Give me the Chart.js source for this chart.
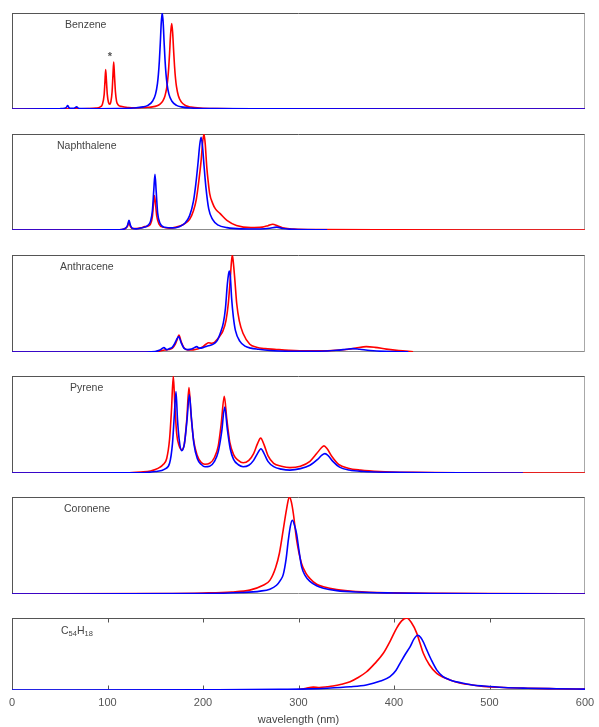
<!DOCTYPE html>
<html><head><meta charset="utf-8">
<script src="https://cdn.jsdelivr.net/npm/chart.js@4"></script>
<style>
html,body{margin:0;padding:0;background:#fff;overflow:hidden;width:599px;height:727px;}
</style></head><body>
<script>
// ---------------- DATA (wavelength nm, normalised intensity) ----------------
const wavelengthTicks = [0, 100, 200, 300, 400, 500, 600];
const moleculeNames = ['Benzene', 'Naphthalene', 'Anthracene', 'Pyrene', 'Coronene', 'C54H18'];

const benzeneBlue = [[0,0],[40,0.001],[50,0.003],[55,0.008],[57,0.018],[58.3,0.035],[59.6,0.015],[62,0.006],[65,0.008],[67.7,0.022],[69.5,0.008],[73,0.004],[90,0.003],[110,0.004],[127,0.01],[137.3,0.022],[142.3,0.038],[147.3,0.083],[150.3,0.155],[152.3,0.265],[153.3,0.36],[154.3,0.5],[155.3,0.69],[156.3,0.9],[157.3,1.0],[158.3,0.9],[159.3,0.69],[160.3,0.5],[161.3,0.36],[162.3,0.265],[164.3,0.155],[167.3,0.083],[172.3,0.038],[177.3,0.022],[187.3,0.01],[210,0.004],[260,0.002],[600,0]];
const benzeneRed = [[0,0],[60,0.001],[80,0.004],[88,0.01],[92,0.02],[94.5,0.045],[96.5,0.15],[97.3,0.28],[98.1,0.41],[98.9,0.29],[99.8,0.15],[101,0.07],[102.3,0.05],[103.6,0.08],[104.8,0.18],[105.7,0.35],[106.5,0.49],[107.3,0.35],[108.3,0.18],[109.5,0.08],[111,0.045],[115,0.025],[122,0.015],[130,0.013],[137,0.015],[142,0.018],[147,0.022],[152,0.034],[155,0.051],[158,0.085],[160,0.13],[161,0.17],[162,0.22],[163,0.3],[164,0.415],[165,0.58],[166,0.77],[167.2,0.89],[168.2,0.8],[169.2,0.616],[170.2,0.445],[171.2,0.32],[172.2,0.236],[174.2,0.138],[177.2,0.074],[182.2,0.034],[187.2,0.02],[197,0.0088],[215,0.0035],[260,0.001],[600,0]];

const naphthaleneBlue = [[0,0],[100,0.001],[115,0.005],[119,0.02],[121,0.05],[122.5,0.1],[124,0.05],[126,0.018],[130,0.012],[135,0.02],[139,0.03],[142,0.045],[145,0.09],[147,0.2],[148.5,0.42],[149.7,0.58],[151,0.4],[152.5,0.18],[155,0.07],[160,0.028],[168,0.022],[175,0.035],[181,0.07],[186,0.15],[190,0.3],[192.5,0.48],[195,0.72],[196.5,0.88],[198,0.965],[199.5,0.87],[201,0.68],[203,0.45],[206,0.22],[210,0.11],[216,0.05],[225,0.025],[240,0.012],[260,0.01],[270,0.018],[277,0.03],[284,0.015],[295,0.006],[330,0.001]];
const naphthaleneRed = [[0,0],[100,0.001],[115,0.005],[119,0.018],[121,0.04],[122.3,0.08],[123.8,0.04],[126,0.015],[130,0.015],[135,0.022],[139,0.035],[142,0.04],[145,0.06],[147,0.14],[148,0.25],[149,0.36],[150,0.3],[151.5,0.15],[154,0.06],[158,0.03],[165,0.02],[172,0.03],[180,0.06],[186,0.11],[190,0.2],[193,0.32],[195.5,0.5],[198,0.72],[199.7,0.92],[201,1.0],[202.3,0.9],[204,0.65],[205.5,0.5],[207,0.38],[210,0.28],[213,0.22],[218,0.17],[225,0.1],[235,0.048],[250,0.025],[262,0.03],[268,0.045],[273,0.06],[278,0.045],[285,0.02],[295,0.01],[320,0.004],[400,0.001],[600,0]];

const anthraceneBlue = [[0,0],[140,0],[150,0.005],[155,0.02],[159,0.045],[162,0.025],[165,0.035],[167.5,0.045],[170,0.08],[172,0.12],[174.5,0.16],[177,0.1],[180,0.04],[184,0.025],[188,0.03],[191,0.045],[193.4,0.055],[196,0.04],[200,0.045],[204,0.06],[208,0.07],[212,0.09],[215,0.12],[218,0.19],[221.3,0.3],[223.5,0.45],[225.5,0.7],[226.7,0.8],[227.6,0.835],[228.6,0.78],[230,0.55],[231.8,0.36],[234,0.22],[238.7,0.11],[244,0.06],[250,0.04],[258,0.028],[270,0.015],[290,0.008],[320,0.008],[340,0.018],[350,0.028],[357,0.035],[364,0.028],[375,0.015],[390,0.006],[415,0.001]];
const anthraceneRed = [[0,0],[140,0],[152,0.005],[157,0.015],[160,0.02],[164,0.025],[168,0.04],[171,0.08],[173,0.13],[174.8,0.175],[177,0.11],[180,0.045],[184,0.02],[188,0.02],[192,0.025],[196,0.035],[200,0.055],[203,0.08],[206,0.096],[209,0.09],[212,0.1],[215,0.13],[218,0.17],[221,0.22],[224,0.32],[226.5,0.5],[228.5,0.75],[229.8,0.93],[230.7,1.0],[231.7,0.93],[233.3,0.75],[235.3,0.5],[238,0.32],[242,0.19],[249,0.08],[256,0.05],[265,0.035],[275,0.028],[290,0.018],[310,0.012],[335,0.015],[350,0.025],[360,0.04],[371,0.055],[380,0.048],[392,0.03],[405,0.015],[420,0.003]];

const pyreneBlue = [[0,0],[120,0.001],[140,0.005],[150,0.015],[160,0.04],[165,0.1],[168,0.3],[170,0.6],[171.7,0.84],[173.3,0.55],[175,0.35],[177.7,0.23],[180.5,0.3],[183.3,0.55],[185.7,0.81],[188,0.55],[190.5,0.3],[194,0.15],[198,0.09],[202,0.065],[207,0.07],[212,0.12],[216,0.22],[219.5,0.42],[222.7,0.68],[225.5,0.45],[228.5,0.25],[232,0.14],[237,0.085],[242,0.065],[248,0.08],[253,0.13],[257,0.2],[260.7,0.25],[264,0.2],[268,0.12],[274,0.065],[282,0.04],[291,0.03],[302,0.045],[312,0.08],[320,0.14],[324.5,0.185],[327.7,0.2],[331,0.18],[336,0.12],[343,0.06],[353,0.03],[368,0.015],[400,0.006],[460,0.002],[535,0]];
const pyreneRed = [[0,0],[120,0.002],[135,0.01],[145,0.02],[150,0.035],[155,0.06],[158,0.085],[162,0.15],[165,0.35],[167,0.65],[168.9,1.0],[170.5,0.7],[172.5,0.4],[175,0.28],[177.7,0.24],[180.5,0.3],[183,0.55],[185.3,0.88],[187.5,0.6],[190,0.35],[194,0.18],[198,0.11],[202,0.09],[207,0.1],[212,0.16],[216,0.28],[219,0.5],[222.3,0.79],[225,0.55],[228,0.32],[232,0.19],[237,0.13],[242,0.105],[248,0.13],[253,0.2],[257,0.3],[260.4,0.36],[264,0.29],[268,0.18],[274,0.1],[282,0.07],[291,0.055],[302,0.07],[312,0.12],[319,0.2],[324,0.26],[326.7,0.28],[330,0.25],[335,0.17],[342,0.09],[352,0.05],[365,0.03],[385,0.015],[420,0.006],[480,0.002],[600,0]];

const coroneneBlue = [[0,0],[200,0.005],[240,0.015],[260,0.03],[270,0.05],[277,0.09],[281,0.14],[284,0.2],[287,0.36],[289.4,0.56],[291.5,0.7],[293.5,0.76],[295.5,0.72],[298,0.62],[300.5,0.45],[303.3,0.28],[307,0.19],[312,0.13],[319,0.085],[326,0.06],[340,0.035],[360,0.02],[400,0.01],[450,0.005],[530,0.002],[600,0]];
const coroneneRed = [[0,0],[150,0.004],[200,0.01],[230,0.02],[249,0.04],[263,0.09],[270,0.14],[276,0.27],[280,0.42],[284,0.66],[287.6,0.88],[290.4,1.0],[292.5,0.95],[294.6,0.83],[298,0.56],[303,0.32],[308,0.21],[312,0.16],[319,0.1],[326,0.075],[340,0.045],[360,0.025],[400,0.012],[450,0.007],[500,0.004],[600,0.002]];

const c54h18Blue = [[0,0],[200,0.003],[280,0.008],[310,0.015],[330,0.025],[354,0.045],[371,0.07],[385,0.12],[395.8,0.185],[402,0.27],[406.3,0.37],[412,0.5],[416.8,0.6],[421,0.71],[424.8,0.76],[428,0.73],[431,0.66],[434.2,0.56],[439,0.42],[444.7,0.28],[451,0.19],[458.6,0.14],[470,0.1],[482,0.07],[493.5,0.055],[515,0.035],[540,0.025],[570,0.018],[600,0.012]];
const c54h18Red = [[296,0],[302,0.01],[308,0.025],[315.5,0.04],[322,0.035],[330,0.045],[336,0.055],[345,0.08],[354,0.115],[362,0.17],[371,0.25],[380,0.37],[388.8,0.51],[396,0.68],[402.8,0.86],[408,0.96],[413.3,1.0],[418,0.94],[423.8,0.79],[427,0.66],[430.7,0.51],[437,0.35],[444.7,0.23],[451,0.18],[458.6,0.14],[470,0.095],[482,0.07],[493.5,0.05],[515,0.035],[540,0.025],[570,0.018],[600,0.012]];

// ---------------- LAYOUT ----------------
const FONT = '"Liberation Sans", Arial, sans-serif';
const panels = [
  {top:13,  h:96, blue:benzeneBlue,     red:benzeneRed,     lx:65, ly:25,  star:[110,55]},
  {top:134, h:96, blue:naphthaleneBlue, red:naphthaleneRed, lx:57, ly:146},
  {top:255, h:97, blue:anthraceneBlue,  red:anthraceneRed,  lx:60, ly:267},
  {top:376, h:97, blue:pyreneBlue,      red:pyreneRed,      lx:70, ly:388},
  {top:497, h:97, blue:coroneneBlue,    red:coroneneRed,    lx:64, ly:509},
  {top:618, h:72, blue:c54h18Blue,      red:c54h18Red,      lx:61, ly:631}
];

const framePlugin = {
  id: 'frame',
  beforeDatasetsDraw(chart, args, o) {
    const ctx = chart.ctx, a = chart.chartArea;
    const L = Math.round(a.left) + 0.5, R = Math.round(a.right) - 0.5;
    const T = Math.round(a.top) + 0.5, B = Math.round(a.bottom) - 0.5;
    ctx.save();
    ctx.lineWidth = 1;
    const seg = (x1, y1, x2, y2, c) => { ctx.strokeStyle = c; ctx.beginPath(); ctx.moveTo(x1, y1); ctx.lineTo(x2, y2); ctx.stroke(); };
    seg(L, B, R, B, '#8c8c8c');
    seg(L - 0.5, T, R + 0.5, T, '#555555');
    seg(L, T, L, B + 0.5, '#555555');
    seg(R, T, R, B + 0.5, '#a8a8a8');
    if (o.ticks) {
      wavelengthTicks.forEach(v => {
        if (v === 0 || v === 600) return;
        const x = Math.round(chart.scales.x.getPixelForValue(v)) + 0.5;
        seg(x, T, x, T + 4, '#555555');
        seg(x, B, x, B - 4, '#555555');
      });
    }
    ctx.restore();
  },
  afterDatasetsDraw(chart, args, o) {
    const ctx = chart.ctx;
    ctx.save();
    ctx.fillStyle = '#444444';
    ctx.textBaseline = 'middle';
    ctx.textAlign = 'left';
    const y = o.ly - o.offset;
    if (o.name === 'C54H18') {
      let x = o.lx;
      const parts = [['C', 0, 10.5], ['54', 3, 7.5], ['H', 0, 10.5], ['18', 3, 7.5]];
      parts.forEach(([t, dy, s]) => {
        ctx.font = s + 'px ' + FONT;
        ctx.fillText(t, x, y + dy);
        x += ctx.measureText(t).width;
      });
    } else {
      ctx.font = '10.5px ' + FONT;
      ctx.fillText(o.name, o.lx, y);
    }
    if (o.star) {
      ctx.fillStyle = '#555555';
      ctx.font = 'bold 11px ' + FONT;
      ctx.textAlign = 'center';
      ctx.fillText('*', o.star[0], o.star[1] - o.offset + 2);
    }
    ctx.restore();
  }
};

panels.forEach((p, i) => {
  const last = i === panels.length - 1;
  const wrap = document.createElement('div');
  const offset = p.top - 1;
  wrap.style.cssText = 'position:absolute;left:0;top:' + offset + 'px;width:599px;height:' + (last ? 110 : p.h + 2) + 'px';
  const cv = document.createElement('canvas');
  wrap.appendChild(cv);
  document.body.appendChild(wrap);
  const ds = (arr, color) => ({
    data: arr.map(([x, y]) => ({x, y})),
    borderColor: color, backgroundColor: color,
    showLine: true, fill: false, pointRadius: 0, borderWidth: 1.6,
    cubicInterpolationMode: 'monotone'
  });
  const xScale = {
    type: 'linear', min: 0, max: 600, display: last,
    ticks: {stepSize: 100, color: '#555555', font: {family: FONT, size: 11}, padding: 6, maxRotation: 0, autoSkip: false},
    grid: {display: false, drawTicks: false},
    border: {display: false},
    title: {display: true, text: 'wavelength (nm)', color: '#444444', font: {family: FONT, size: 11}, padding: {top: 0, bottom: 0}}
  };
  if (last) xScale.afterFit = (s) => { s.paddingLeft = 0; s.paddingRight = 0; s.height = 37; };
  new Chart(cv, {
    type: 'scatter',
    data: {datasets: [ds(p.blue, '#0000ff'), ds(p.red, '#ff0000')]},
    options: {
      responsive: true, maintainAspectRatio: false, animation: false,
      layout: {padding: {left: 12, right: 14, top: 1, bottom: last ? 0 : 1}},
      plugins: {
        legend: {display: false}, tooltip: {enabled: false},
        frame: {name: moleculeNames[i], lx: p.lx, ly: p.ly, offset: offset, star: p.star, ticks: last}
      },
      scales: {
        x: xScale,
        y: {type: 'linear', min: 0, max: 1, display: false}
      }
    },
    plugins: [framePlugin]
  });
});
</script>
</body></html>
